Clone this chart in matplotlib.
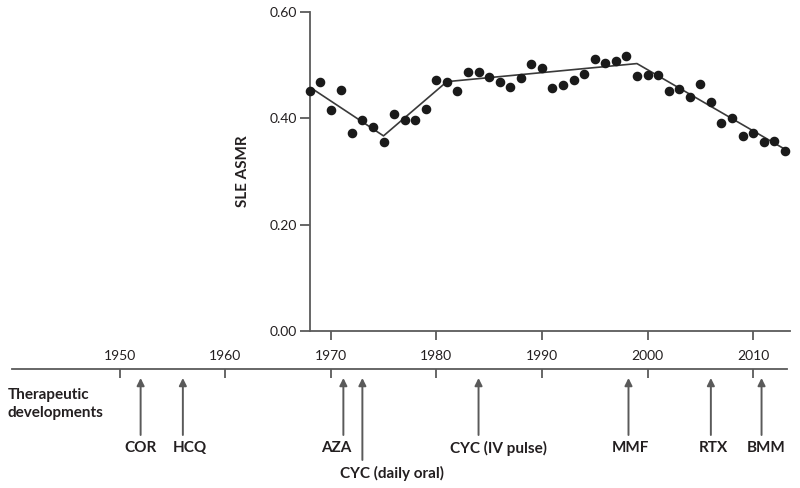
import matplotlib
matplotlib.use('Agg')
import matplotlib.pyplot as plt

plt.rcParams['font.family'] = ['Lato', 'DejaVu Sans']

# SLE age-standardised mortality rate
years = list(range(1968, 2014))
asmr = [0.452, 0.469, 0.416, 0.453, 0.372, 0.397, 0.384, 0.356, 0.409, 0.396,
        0.396, 0.417, 0.473, 0.469, 0.452, 0.487, 0.487, 0.478, 0.469, 0.458,
        0.475, 0.503, 0.495, 0.457, 0.463, 0.473, 0.484, 0.512, 0.505, 0.508,
        0.517, 0.480, 0.481, 0.481, 0.451, 0.455, 0.441, 0.464, 0.430, 0.392,
        0.401, 0.367, 0.372, 0.355, 0.357, 0.339]

# joinpoint trend
trend_years = [1968, 1975, 1981, 1999, 2013]
trend_vals = [0.459, 0.367, 0.469, 0.503, 0.342]

yticks = [0.0, 0.2, 0.4, 0.6]
upper_xticks = [1970, 1980, 1990, 2000, 2010]
timeline_ticks = [1950, 1960, 1970, 1980, 1990, 2000, 2010]

drugs = ['COR', 'HCQ', 'AZA', 'CYC (daily oral)', 'CYC (IV pulse)', 'MMF', 'RTX', 'BMM']
drug_years = [1952, 1956, 1971.2, 1973, 1984, 1998.2, 2006, 2010.8]

W, H = 800, 488
X0, S = 119.5, 10.56  # pixel of 1950, pixels per year


def px(yr):
    return X0 + (yr - 1950) * S


def yr(p):
    return 1950 + (p - X0) / S


txt = '#231f20'
grey = '#5a5a5a'

fig = plt.figure(figsize=(8, 4.88), dpi=100)

# upper panel
xl = (1968, 2013.5)
ax = fig.add_axes([px(xl[0]) / W, 1 - 331 / H, (px(xl[1]) - px(xl[0])) / W, (331 - 12) / H])
ax.plot(trend_years, trend_vals, color='#3a3a3a', lw=1.2, zorder=2)
ax.plot(years, asmr, 'o', color='#1a1a1a', ms=5.9, zorder=3, clip_on=False)
ax.set_xlim(*xl)
ax.set_ylim(0, 0.6)
ax.set_yticks(yticks)
ax.set_yticklabels(['%.2f' % v for v in yticks], color=txt, fontsize=10)
ax.set_xticks(upper_xticks)
ax.set_xticklabels([])
for s in ['top', 'right']:
    ax.spines[s].set_visible(False)
for s in ['left', 'bottom']:
    ax.spines[s].set_color(grey)
    ax.spines[s].set_linewidth(1.3)
ax.tick_params(axis='y', length=7, width=1.3, color=grey, pad=2)
ax.tick_params(axis='x', length=6.5, width=1.3, color=grey)
ax.set_ylabel('SLE ASMR', color=txt, fontsize=11, fontweight='bold', labelpad=14)

# timeline
tl = (12, 787)
tax = fig.add_axes([tl[0] / W, 0, (tl[1] - tl[0]) / W, (H - 369) / H])
tax.set_xlim(yr(tl[0]), yr(tl[1]))
tax.set_ylim(H, 369)
tax.patch.set_visible(False)
for s in ['left', 'right', 'bottom']:
    tax.spines[s].set_visible(False)
tax.spines['top'].set_color(grey)
tax.spines['top'].set_linewidth(1.3)
tax.set_yticks([])
tax.set_xticks(timeline_ticks)
tax.set_xticklabels([str(t) for t in timeline_ticks], color=txt, fontsize=10)
tax.tick_params(axis='x', top=True, labeltop=True, bottom=False, labelbottom=False,
                direction='in', length=6.5, width=1.3, color=grey, pad=5)

label_dx = [0, 7, -7, 30, 20, 2, 3, 5]  # pixel offsets of the labels
for name, y, dx in zip(drugs, drug_years, label_dx):
    bottom = 460 if name == 'CYC (daily oral)' else 435
    tax.annotate('', xy=(y, 378), xytext=(y, bottom),
                 arrowprops=dict(arrowstyle='-|>', color=grey, lw=1.4,
                                 mutation_scale=11, shrinkA=0, shrinkB=0))
    ly = 473 if name == 'CYC (daily oral)' else 448
    tax.text(yr(px(y) + dx), ly, name, ha='center', va='center',
             color=txt, fontsize=11, fontweight='bold')

fig.text(8 / W, 1 - 404 / H, 'Therapeutic\ndevelopments', ha='left', va='center',
         color=txt, fontsize=11, fontweight='bold', linespacing=1.4)

fig.savefig('out.png', dpi=100)
